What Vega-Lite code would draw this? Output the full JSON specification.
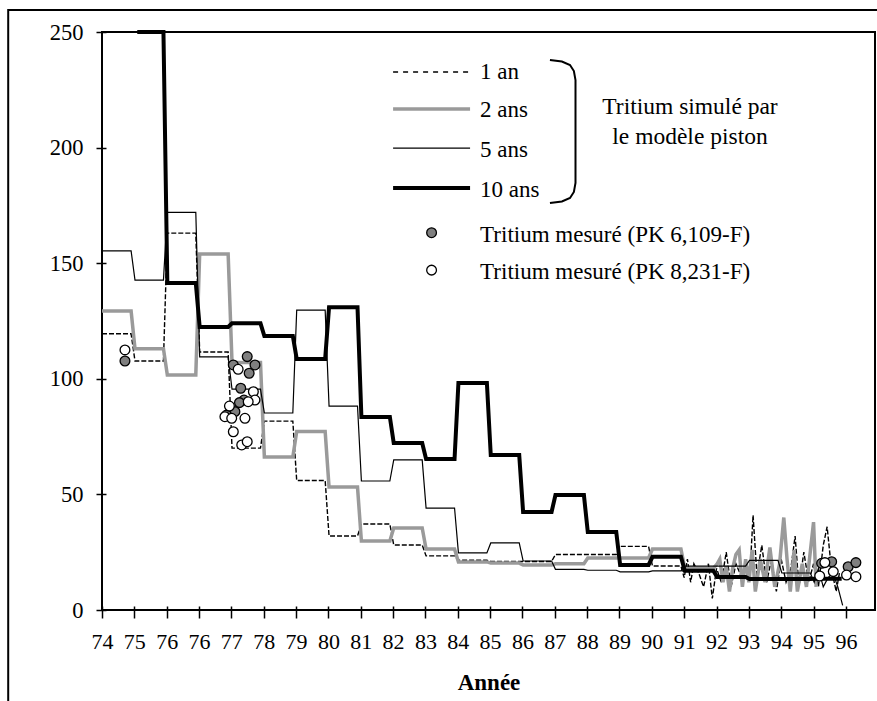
{
  "$schema": "https://vega.github.io/schema/vega-lite/v6.json",
  "width": 773,
  "height": 578,
  "autosize": {"type": "none"},
  "padding": {"left": 102, "top": 32, "right": 2, "bottom": 91},
  "background": "white",
  "config": {"view": {"stroke": "black", "strokeWidth": 2}, "font": "Liberation Serif"},
  "datasets": {
    "sim": [
      {"s":"1 an","t":0,"v":119.5},{"s":"1 an","t":0.9,"v":119.5},
      {"s":"1 an","t":1.02,"v":107.7},{"s":"1 an","t":1.9,"v":107.7},
      {"s":"1 an","t":2.02,"v":163},{"s":"1 an","t":2.9,"v":163},
      {"s":"1 an","t":3.02,"v":111.6},{"s":"1 an","t":3.9,"v":111.6},
      {"s":"1 an","t":4.02,"v":70},{"s":"1 an","t":4.9,"v":70},
      {"s":"1 an","t":5.02,"v":81.7},{"s":"1 an","t":5.9,"v":81.7},
      {"s":"1 an","t":6.02,"v":56},{"s":"1 an","t":6.9,"v":56},
      {"s":"1 an","t":7.02,"v":32},{"s":"1 an","t":7.9,"v":32},
      {"s":"1 an","t":8.02,"v":37.2},{"s":"1 an","t":8.9,"v":37.2},
      {"s":"1 an","t":9.02,"v":28.1},{"s":"1 an","t":9.9,"v":28.1},
      {"s":"1 an","t":10.02,"v":23.4},{"s":"1 an","t":10.9,"v":23.4},
      {"s":"1 an","t":11.02,"v":21.5},{"s":"1 an","t":11.9,"v":21.5},
      {"s":"1 an","t":12.02,"v":21},{"s":"1 an","t":12.9,"v":21},
      {"s":"1 an","t":13.02,"v":21},{"s":"1 an","t":13.9,"v":21},
      {"s":"1 an","t":14.02,"v":24},{"s":"1 an","t":14.9,"v":24},
      {"s":"1 an","t":15.02,"v":24},{"s":"1 an","t":15.9,"v":24},
      {"s":"1 an","t":16.02,"v":27.5},{"s":"1 an","t":16.9,"v":27.5},
      {"s":"1 an","t":17.02,"v":19},{"s":"1 an","t":17.9,"v":19},
      {"s":"1 an","t":18.0,"v":14},{"s":"1 an","t":18.1,"v":22},{"s":"1 an","t":18.2,"v":12},{"s":"1 an","t":18.3,"v":20},
      {"s":"1 an","t":18.45,"v":16},{"s":"1 an","t":18.6,"v":10},{"s":"1 an","t":18.75,"v":20},{"s":"1 an","t":18.87,"v":5},
      {"s":"1 an","t":19.0,"v":18},{"s":"1 an","t":19.15,"v":12},{"s":"1 an","t":19.3,"v":25},{"s":"1 an","t":19.45,"v":10},
      {"s":"1 an","t":19.6,"v":20},{"s":"1 an","t":19.75,"v":15},{"s":"1 an","t":19.9,"v":14},{"s":"1 an","t":20.05,"v":20},
      {"s":"1 an","t":20.13,"v":41},{"s":"1 an","t":20.25,"v":15},{"s":"1 an","t":20.4,"v":28},{"s":"1 an","t":20.55,"v":12},
      {"s":"1 an","t":20.7,"v":22},{"s":"1 an","t":20.85,"v":8},{"s":"1 an","t":21.0,"v":22},{"s":"1 an","t":21.15,"v":12},
      {"s":"1 an","t":21.3,"v":18},{"s":"1 an","t":21.43,"v":32},{"s":"1 an","t":21.55,"v":10},{"s":"1 an","t":21.7,"v":25},
      {"s":"1 an","t":21.85,"v":12},{"s":"1 an","t":22.0,"v":20},{"s":"1 an","t":22.15,"v":10},{"s":"1 an","t":22.3,"v":28},
      {"s":"1 an","t":22.42,"v":36},{"s":"1 an","t":22.55,"v":18},{"s":"1 an","t":22.7,"v":8},{"s":"1 an","t":22.8,"v":16},

      {"s":"2 ans","t":0,"v":129.3},{"s":"2 ans","t":0.9,"v":129.3},
      {"s":"2 ans","t":1.02,"v":113},{"s":"2 ans","t":1.9,"v":113},
      {"s":"2 ans","t":2.02,"v":101.6},{"s":"2 ans","t":2.9,"v":101.6},
      {"s":"2 ans","t":3.02,"v":154},{"s":"2 ans","t":3.9,"v":154},
      {"s":"2 ans","t":4.02,"v":107},{"s":"2 ans","t":4.9,"v":107},
      {"s":"2 ans","t":5.02,"v":66.2},{"s":"2 ans","t":5.9,"v":66.2},
      {"s":"2 ans","t":6.02,"v":77.2},{"s":"2 ans","t":6.9,"v":77.2},
      {"s":"2 ans","t":7.02,"v":53.2},{"s":"2 ans","t":7.9,"v":53.2},
      {"s":"2 ans","t":8.02,"v":29.8},{"s":"2 ans","t":8.9,"v":29.8},
      {"s":"2 ans","t":9.02,"v":35.5},{"s":"2 ans","t":9.9,"v":35.5},
      {"s":"2 ans","t":10.02,"v":26.4},{"s":"2 ans","t":10.9,"v":26.4},
      {"s":"2 ans","t":11.02,"v":20.8},{"s":"2 ans","t":11.9,"v":20.8},
      {"s":"2 ans","t":12.02,"v":20.3},{"s":"2 ans","t":12.9,"v":20.3},
      {"s":"2 ans","t":13.02,"v":19.5},{"s":"2 ans","t":13.9,"v":19.5},
      {"s":"2 ans","t":14.02,"v":20},{"s":"2 ans","t":14.9,"v":20},
      {"s":"2 ans","t":15.02,"v":22.5},{"s":"2 ans","t":15.9,"v":22.5},
      {"s":"2 ans","t":16.02,"v":22.5},{"s":"2 ans","t":16.9,"v":22.5},
      {"s":"2 ans","t":17.02,"v":26.4},{"s":"2 ans","t":17.9,"v":26.4},
      {"s":"2 ans","t":18.02,"v":18},{"s":"2 ans","t":18.9,"v":18},
      {"s":"2 ans","t":19.02,"v":20},{"s":"2 ans","t":19.1,"v":22},{"s":"2 ans","t":19.2,"v":12},{"s":"2 ans","t":19.3,"v":19},
      {"s":"2 ans","t":19.4,"v":8},{"s":"2 ans","t":19.5,"v":18},{"s":"2 ans","t":19.6,"v":24},{"s":"2 ans","t":19.7,"v":26},
      {"s":"2 ans","t":19.8,"v":10},{"s":"2 ans","t":19.9,"v":22},{"s":"2 ans","t":20.0,"v":12},{"s":"2 ans","t":20.1,"v":26},
      {"s":"2 ans","t":20.2,"v":8},{"s":"2 ans","t":20.35,"v":22},{"s":"2 ans","t":20.5,"v":12},{"s":"2 ans","t":20.65,"v":27},
      {"s":"2 ans","t":20.8,"v":10},{"s":"2 ans","t":20.95,"v":20},{"s":"2 ans","t":21.08,"v":40},{"s":"2 ans","t":21.18,"v":22},
      {"s":"2 ans","t":21.28,"v":8},{"s":"2 ans","t":21.4,"v":26},{"s":"2 ans","t":21.5,"v":8},{"s":"2 ans","t":21.65,"v":20},
      {"s":"2 ans","t":21.78,"v":10},{"s":"2 ans","t":22.0,"v":38},{"s":"2 ans","t":22.08,"v":10},

      {"s":"5 ans","t":0,"v":155.3},{"s":"5 ans","t":0.9,"v":155.3},
      {"s":"5 ans","t":1.02,"v":142.7},{"s":"5 ans","t":1.9,"v":142.7},
      {"s":"5 ans","t":2.02,"v":172},{"s":"5 ans","t":2.9,"v":172},
      {"s":"5 ans","t":3.02,"v":109.5},{"s":"5 ans","t":3.9,"v":109.5},
      {"s":"5 ans","t":4.02,"v":95.5},{"s":"5 ans","t":4.9,"v":95.5},
      {"s":"5 ans","t":5.02,"v":85.2},{"s":"5 ans","t":5.9,"v":85.2},
      {"s":"5 ans","t":6.02,"v":129.7},{"s":"5 ans","t":6.9,"v":129.7},
      {"s":"5 ans","t":7.02,"v":88.2},{"s":"5 ans","t":7.9,"v":88.2},
      {"s":"5 ans","t":8.02,"v":55.8},{"s":"5 ans","t":8.9,"v":55.8},
      {"s":"5 ans","t":9.02,"v":64.9},{"s":"5 ans","t":9.9,"v":64.9},
      {"s":"5 ans","t":10.02,"v":44.1},{"s":"5 ans","t":10.9,"v":44.1},
      {"s":"5 ans","t":11.02,"v":24.7},{"s":"5 ans","t":11.9,"v":24.7},
      {"s":"5 ans","t":12.02,"v":29},{"s":"5 ans","t":12.9,"v":29},
      {"s":"5 ans","t":13.02,"v":21.2},{"s":"5 ans","t":13.9,"v":21.2},
      {"s":"5 ans","t":14.02,"v":17.6},{"s":"5 ans","t":14.9,"v":17.6},
      {"s":"5 ans","t":15.02,"v":17.2},{"s":"5 ans","t":15.9,"v":17.2},
      {"s":"5 ans","t":16.02,"v":16.5},{"s":"5 ans","t":16.9,"v":16.5},
      {"s":"5 ans","t":17.02,"v":16.9},{"s":"5 ans","t":17.9,"v":16.9},
      {"s":"5 ans","t":18.02,"v":19},{"s":"5 ans","t":18.9,"v":19},
      {"s":"5 ans","t":19.02,"v":19},{"s":"5 ans","t":19.9,"v":19},
      {"s":"5 ans","t":20.02,"v":21.5},{"s":"5 ans","t":20.9,"v":21.5},
      {"s":"5 ans","t":21.02,"v":16},{"s":"5 ans","t":21.9,"v":16},
      {"s":"5 ans","t":22.02,"v":12},{"s":"5 ans","t":22.15,"v":18},{"s":"5 ans","t":22.3,"v":10},{"s":"5 ans","t":22.45,"v":14},
      {"s":"5 ans","t":22.6,"v":16},{"s":"5 ans","t":22.75,"v":10},{"s":"5 ans","t":22.9,"v":2},

      {"s":"10 ans","t":1.09,"v":250},{"s":"10 ans","t":1.9,"v":250},
      {"s":"10 ans","t":2.02,"v":141.4},{"s":"10 ans","t":2.9,"v":141.4},
      {"s":"10 ans","t":3.02,"v":122.4},{"s":"10 ans","t":3.9,"v":122.4},
      {"s":"10 ans","t":4.02,"v":124},{"s":"10 ans","t":4.9,"v":124},
      {"s":"10 ans","t":5.02,"v":118.5},{"s":"10 ans","t":5.9,"v":118.5},
      {"s":"10 ans","t":6.02,"v":108.6},{"s":"10 ans","t":6.9,"v":108.6},
      {"s":"10 ans","t":7.02,"v":131},{"s":"10 ans","t":7.9,"v":131},
      {"s":"10 ans","t":8.02,"v":83.5},{"s":"10 ans","t":8.9,"v":83.5},
      {"s":"10 ans","t":9.02,"v":72.2},{"s":"10 ans","t":9.9,"v":72.2},
      {"s":"10 ans","t":10.02,"v":65.3},{"s":"10 ans","t":10.9,"v":65.3},
      {"s":"10 ans","t":11.02,"v":98.2},{"s":"10 ans","t":11.9,"v":98.2},
      {"s":"10 ans","t":12.02,"v":67},{"s":"10 ans","t":12.9,"v":67},
      {"s":"10 ans","t":13.02,"v":42.4},{"s":"10 ans","t":13.9,"v":42.4},
      {"s":"10 ans","t":14.02,"v":49.7},{"s":"10 ans","t":14.9,"v":49.7},
      {"s":"10 ans","t":15.02,"v":33.7},{"s":"10 ans","t":15.9,"v":33.7},
      {"s":"10 ans","t":16.02,"v":19.5},{"s":"10 ans","t":16.9,"v":19.5},
      {"s":"10 ans","t":17.02,"v":23},{"s":"10 ans","t":17.9,"v":23},
      {"s":"10 ans","t":18.02,"v":17},{"s":"10 ans","t":18.9,"v":17},
      {"s":"10 ans","t":19.02,"v":14.3},{"s":"10 ans","t":19.9,"v":14.3},
      {"s":"10 ans","t":20.02,"v":13.4},{"s":"10 ans","t":20.9,"v":13.4},
      {"s":"10 ans","t":21.02,"v":13.4},{"s":"10 ans","t":21.9,"v":13.4},
      {"s":"10 ans","t":22.02,"v":13.5},{"s":"10 ans","t":22.87,"v":13.5}
    ],
    "mes": [
      {"p":"PK 6,109-F","t":0.71,"v":107.7},
      {"p":"PK 6,109-F","t":4.49,"v":109.6},{"p":"PK 6,109-F","t":4.73,"v":106},{"p":"PK 6,109-F","t":4.55,"v":102.4},
      {"p":"PK 6,109-F","t":4.06,"v":106},{"p":"PK 6,109-F","t":4.29,"v":95.9},{"p":"PK 6,109-F","t":4.39,"v":90.8},
      {"p":"PK 6,109-F","t":4.25,"v":89.7},{"p":"PK 6,109-F","t":4.11,"v":85.8},{"p":"PK 6,109-F","t":3.85,"v":84.3},
      {"p":"PK 6,109-F","t":22.25,"v":20.2},{"p":"PK 6,109-F","t":22.56,"v":20.9},{"p":"PK 6,109-F","t":23.07,"v":18.7},{"p":"PK 6,109-F","t":23.31,"v":20.5},
      {"p":"PK 8,231-F","t":0.71,"v":112.5},
      {"p":"PK 8,231-F","t":4.21,"v":104.1},{"p":"PK 8,231-F","t":4.68,"v":94.4},{"p":"PK 8,231-F","t":4.73,"v":90.8},
      {"p":"PK 8,231-F","t":4.52,"v":90.1},{"p":"PK 8,231-F","t":3.94,"v":88.2},{"p":"PK 8,231-F","t":3.8,"v":83.6},
      {"p":"PK 8,231-F","t":4.01,"v":82.9},{"p":"PK 8,231-F","t":4.42,"v":82.9},{"p":"PK 8,231-F","t":4.06,"v":77.1},
      {"p":"PK 8,231-F","t":4.32,"v":71.4},{"p":"PK 8,231-F","t":4.49,"v":72.8},
      {"p":"PK 8,231-F","t":22.19,"v":14.7},{"p":"PK 8,231-F","t":22.35,"v":20.5},{"p":"PK 8,231-F","t":22.61,"v":16.6},
      {"p":"PK 8,231-F","t":23.02,"v":15.1},{"p":"PK 8,231-F","t":23.31,"v":14.4}
    ],
    "legl": [
      {"s":"1 an","t":9.0,"v":232.7},{"s":"1 an","t":11.38,"v":232.7},
      {"s":"2 ans","t":9.0,"v":216.7},{"s":"2 ans","t":11.38,"v":216.7},
      {"s":"5 ans","t":9.0,"v":199.8},{"s":"5 ans","t":11.38,"v":199.8},
      {"s":"10 ans","t":9.0,"v":182.5},{"s":"10 ans","t":11.38,"v":182.5}
    ],
    "legp": [
      {"p":"PK 6,109-F","t":10.19,"v":163.2},
      {"p":"PK 8,231-F","t":10.19,"v":147}
    ],
    "legt": [
      {"label":"1 an","t":11.69,"v":232.7},
      {"label":"2 ans","t":11.69,"v":216.3},
      {"label":"5 ans","t":11.69,"v":199},
      {"label":"10 ans","t":11.69,"v":181.7},
      {"label":"Tritium mesuré (PK 6,109-F)","t":11.69,"v":162.2},
      {"label":"Tritium mesuré (PK 8,231-F)","t":11.69,"v":146.3}
    ],
    "note": [
      {"label":"Tritium simulé par","t":18.18,"v":217.6},
      {"label":"le modèle piston","t":18.18,"v":204.6}
    ],
    "brace": [
      {"o":1,"t":13.85,"v":237.9},{"o":2,"t":14.22,"v":237.2},{"o":3,"t":14.47,"v":235.7},
      {"o":4,"t":14.59,"v":233.1},{"o":5,"t":14.64,"v":229.2},{"o":6,"t":14.64,"v":184.7},
      {"o":7,"t":14.59,"v":180.8},{"o":8,"t":14.47,"v":178.2},{"o":9,"t":14.22,"v":176.7},{"o":10,"t":13.85,"v":176.0}
    ],
    "cadre": [
      {"t":-2.9,"v":259.5,"t2":24.3,"v2":-45}
    ]
  },
  "encoding": {
    "x": {
      "field": "t", "type": "quantitative",
      "scale": {"domain": [0, 23.9], "nice": false, "zero": false},
      "axis": {
        "values": [0,1,2,3,4,5,6,7,8,9,10,11,12,13,14,15,16,17,18,19,20,21,22,23],
        "labelExpr": "datum.value < 3 ? '' + (74 + datum.value) : '' + (73 + datum.value)",
        "title": "Année", "titleFont": "Liberation Serif", "titleFontSize": 23, "titleFontWeight": "bold",
        "titleColor": "black", "titlePadding": 19,
        "labelFont": "Liberation Serif", "labelFontSize": 22, "labelColor": "black", "labelPadding": 13,
        "labelFlush": false, "labelOverlap": false, "labelBound": false,
        "tickColor": "black", "tickWidth": 1.5, "tickSize": 12, "offset": -4,
        "domain": false, "grid": false
      }
    },
    "y": {
      "field": "v", "type": "quantitative",
      "scale": {"domain": [0, 250], "nice": false, "zero": false},
      "axis": {
        "values": [0, 50, 100, 150, 200, 250],
        "title": null,
        "labelFont": "Liberation Serif", "labelFontSize": 22.5, "labelColor": "black", "labelPadding": 13,
        "labelFlush": false, "labelOverlap": false,
        "tickColor": "black", "tickWidth": 1.5, "tickSize": 10, "offset": -4,
        "domain": false, "grid": false
      }
    }
  },
  "layer": [
    {
      "data": {"name": "cadre"},
      "mark": {"type": "rect", "fill": "transparent", "stroke": "black", "strokeWidth": 2, "clip": false},
      "encoding": {
        "x2": {"field": "t2"},
        "y2": {"field": "v2"}
      }
    },
    {
      "data": {"name": "sim"},
      "layer": [
        {"transform": [{"filter": "datum.s == '1 an'"}], "mark": {"type": "line", "color": "black", "strokeWidth": 1.4, "strokeDash": [5, 2], "strokeCap": "butt"}},
        {"transform": [{"filter": "datum.s == '2 ans'"}], "mark": {"type": "line", "color": "#9a9a9a", "strokeWidth": 3.5, "strokeCap": "butt"}},
        {"transform": [{"filter": "datum.s == '5 ans'"}], "mark": {"type": "line", "color": "black", "strokeWidth": 1.2, "strokeCap": "butt"}},
        {"transform": [{"filter": "datum.s == '10 ans'"}], "mark": {"type": "line", "color": "black", "strokeWidth": 4, "strokeCap": "butt"}}
      ]
    },
    {
      "data": {"name": "legl"},
      "layer": [
        {"transform": [{"filter": "datum.s == '1 an'"}], "mark": {"type": "line", "color": "black", "strokeWidth": 1.5, "strokeDash": [5, 5], "strokeCap": "butt"}},
        {"transform": [{"filter": "datum.s == '2 ans'"}], "mark": {"type": "line", "color": "#9a9a9a", "strokeWidth": 3.5, "strokeCap": "butt"}},
        {"transform": [{"filter": "datum.s == '5 ans'"}], "mark": {"type": "line", "color": "black", "strokeWidth": 1.2, "strokeCap": "butt"}},
        {"transform": [{"filter": "datum.s == '10 ans'"}], "mark": {"type": "line", "color": "black", "strokeWidth": 4, "strokeCap": "butt"}}
      ]
    },
    {
      "data": {"name": "mes"},
      "mark": {"type": "point", "shape": "circle", "filled": true, "size": 95, "stroke": "black", "strokeWidth": 1.3, "opacity": 1},
      "encoding": {
        "fill": {"field": "p", "type": "nominal", "legend": null,
          "scale": {"domain": ["PK 6,109-F", "PK 8,231-F"], "range": ["#7f7f7f", "#ffffff"]}}
      }
    },
    {
      "data": {"name": "legp"},
      "mark": {"type": "point", "shape": "circle", "filled": true, "size": 95, "stroke": "black", "strokeWidth": 1.3, "opacity": 1},
      "encoding": {
        "fill": {"field": "p", "type": "nominal", "legend": null,
          "scale": {"domain": ["PK 6,109-F", "PK 8,231-F"], "range": ["#7f7f7f", "#ffffff"]}}
      }
    },
    {
      "data": {"name": "legt"},
      "mark": {"type": "text", "align": "left", "baseline": "middle", "font": "Liberation Serif", "fontSize": 23, "color": "black"},
      "encoding": {"text": {"field": "label", "type": "nominal"}}
    },
    {
      "data": {"name": "note"},
      "mark": {"type": "text", "align": "center", "baseline": "middle", "font": "Liberation Serif", "fontSize": 23.5, "color": "black"},
      "encoding": {"text": {"field": "label", "type": "nominal"}}
    },
    {
      "data": {"name": "brace"},
      "mark": {"type": "line", "color": "black", "strokeWidth": 2, "interpolate": "linear"},
      "encoding": {"order": {"field": "o", "type": "quantitative"}}
    }
  ]
}
